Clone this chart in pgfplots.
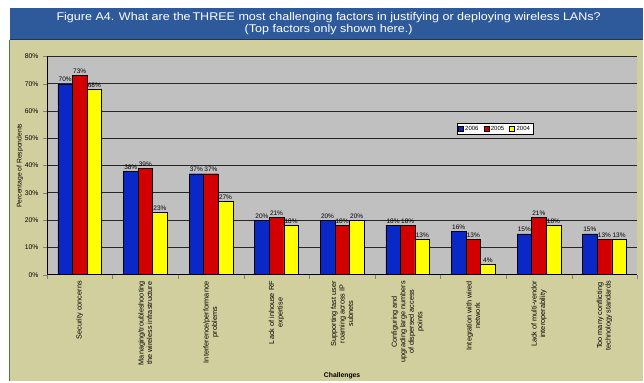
\documentclass[border=0pt]{standalone}
\usepackage{pgfplots}
\pgfplotsset{compat=1.18}
\usepackage{fontspec}
\setmainfont{Liberation Sans}
\newfontfamily\wide[FakeStretch=1.12]{Liberation Sans}
\definecolor{banner}{RGB}{46,90,155}
\definecolor{khaki}{RGB}{210,207,158}
\definecolor{plotgray}{RGB}{192,192,192}
\definecolor{barblue}{RGB}{10,40,200}
\definecolor{barred}{RGB}{210,0,0}
\definecolor{baryellow}{RGB}{255,255,0}
\begin{document}
\begin{tikzpicture}[x=1bp,y=1bp]
\fill[white] (0,0) rectangle (644,381);
\fill[khaki] (9,0) rectangle (644,341);
\draw[black!55!green!40!gray, line width=1.5bp] (9.5,0) -- (9.5,341);
\fill[banner] (10,341) rectangle (644,373);
\draw[banner!60!black, line width=1.5bp] (10,341.5) -- (644,341.5);
\node[text=white, font=\wide\fontsize{11.2bp}{12.5bp}\selectfont, align=center] at (329,357.5)
  {Figure A4. What are the\,THREE most challenging factors in justifying or deploying wireless LANs?\\(Top factors only shown here.)};
\begin{axis}[
  at={(47bp,106bp)}, anchor=south west,
  scale only axis, width=591bp, height=218.5bp,
  xmin=-0.5, xmax=8.5, ymin=0, ymax=80,
  /pgf/number format/assume math mode=true,
  axis background/.style={fill=plotgray},
  axis lines=left,
  axis line style={-, black, line width=0.8bp},
  ybar=0pt, bar width=14.6bp,
  tick align=outside,
  major tick length=4bp,
  ytick={0,10,...,80},
  yticklabel={\pgfmathprintnumber{\tick}\%},
  yticklabel style={font=\fontsize{6.8bp}{7.5bp}\selectfont, xshift=-1bp},
  ymajorgrids, grid style={black!85, line width=0.7bp},
  xtick={-0.5,0.5,...,8.5}, xticklabel=\empty,
  extra x ticks={0,1,2,3,4,5,6,7,8},
  extra x tick style={major tick length=0pt, grid=none},
  extra x tick labels={{Security concerns},{Managing/troubleshooting\\the wireless infrastructure},{Interference/performance\\problems},{Lack of inhouse RF\\expertise},{Supporting fast user\\roaming across IP\\subnets},{Configuring and\\upgrading large numbers\\of dispersed access\\points},{Integration with wired\\network},{Lack of multi-vendor\\interoperability},{Too many conflicting\\technology standards}},
  xticklabel style={rotate=90, anchor=east, align=center, font=\fontsize{7.3bp}{8.5bp}\selectfont, xshift=-3bp},
  xlabel={Challenges},
  xlabel style={at={(axis description cs:0.5,-0.462)}, anchor=center, font=\fontsize{6.8bp}{7.5bp}\selectfont\bfseries},
  ylabel={Percentage of Respondents},
  ylabel style={at={(axis description cs:-0.0457,0.499)}, anchor=center, rotate=0, font=\fontsize{6.8bp}{7.5bp}\selectfont},
  nodes near coords={\pgfmathprintnumber{\pgfplotspointmeta}\%},
  every node near coord/.append style={font=\fontsize{6.5bp}{7.5bp}\selectfont, black, inner sep=1.5bp},
  legend style={at={(0.694,0.696)}, anchor=north west, font=\fontsize{6bp}{7bp}\selectfont, draw=black, fill=white, inner sep=1bp, row sep=0pt, legend columns=3, /tikz/every even column/.append style={column sep=3bp}},
  legend image code/.code={\draw[#1] (0bp,-2.5bp) rectangle (5bp,2.5bp);},
  clip=false,
]
\addplot[fill=barblue, draw=black, line width=0.4bp] coordinates {(0,70) (1,38) (2,37) (3,20) (4,20) (5,18) (6,16) (7,15) (8,15)};
\addplot[fill=barred, draw=black, line width=0.4bp] coordinates {(0,73) (1,39) (2,37) (3,21) (4,18) (5,18) (6,13) (7,21) (8,13)};
\addplot[fill=baryellow, draw=black, line width=0.4bp] coordinates {(0,68) (1,23) (2,27) (3,18) (4,20) (5,13) (6,4) (7,18) (8,13)};
\legend{2006,2005,2004}
\end{axis}
\end{tikzpicture}
\end{document}
